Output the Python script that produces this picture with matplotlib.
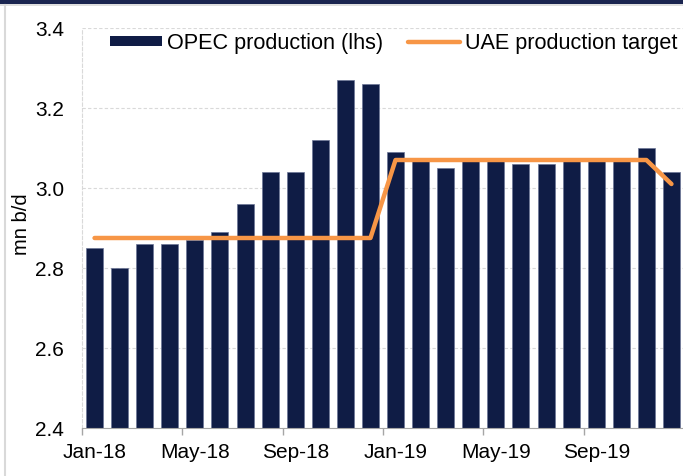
import matplotlib

matplotlib.use("Agg")
import matplotlib.pyplot as plt
from matplotlib.lines import Line2D
from matplotlib.patches import Rectangle

plt.rcParams["font.family"] = ["Liberation Sans", "DejaVu Sans"]

# Monthly series, Jan-18 .. Dec-19
months = [
    "Jan-18", "Feb-18", "Mar-18", "Apr-18", "May-18", "Jun-18",
    "Jul-18", "Aug-18", "Sep-18", "Oct-18", "Nov-18", "Dec-18",
    "Jan-19", "Feb-19", "Mar-19", "Apr-19", "May-19", "Jun-19",
    "Jul-19", "Aug-19", "Sep-19", "Oct-19", "Nov-19", "Dec-19",
]
opec_production = [
    2.85, 2.80, 2.86, 2.86, 2.87, 2.89, 2.96, 3.04, 3.04, 3.12, 3.27, 3.26,
    3.09, 3.07, 3.05, 3.07, 3.07, 3.06, 3.06, 3.07, 3.07, 3.07, 3.10, 3.04,
]
uae_target = [
    2.875, 2.875, 2.875, 2.875, 2.875, 2.875, 2.875, 2.875, 2.875, 2.875, 2.875, 2.875,
    3.07, 3.07, 3.07, 3.07, 3.07, 3.07, 3.07, 3.07, 3.07, 3.07, 3.07, 3.01,
]
y_ticks = [2.4, 2.6, 2.8, 3.0, 3.2, 3.4]

NAVY = "#0f1c45"
ORANGE = "#f79646"
GRID = "#d9d9d9"

W, H = 683, 476
fig = plt.figure(figsize=(W / 100, H / 100), dpi=100)
ax = fig.add_axes([82 / W, 1 - 428 / H, 604 / W, 400 / H])

x = list(range(len(months)))
ax.bar(x, opec_production, width=0.68, color=NAVY, edgecolor="#6b7596",
       linewidth=0.5, zorder=2)
ax.plot(x, uae_target, color=ORANGE, linewidth=3.2, solid_capstyle="round",
        solid_joinstyle="round", zorder=3)

ax.set_xlim(-0.5, 23.58)
ax.set_ylim(2.4, 3.4)
ax.set_yticks(y_ticks)
ax.set_yticklabels([f"{v:.1f}" for v in y_ticks])
ax.tick_params(axis="y", length=0, pad=13, labelsize=15)
ax.yaxis.grid(True, color=GRID, linestyle=(0, (3, 2)), linewidth=0.8, zorder=0)

# tick marks between groups of four months, labels under the first bar of each group
ax.set_xticks([i - 0.5 for i in range(0, 25, 4)])
ax.set_xticklabels([])
ax.set_xticks(x[::4], minor=True)
ax.set_xticklabels(months[::4], minor=True)
ax.tick_params(axis="x", which="major", length=5, color="#a6a6a6", width=1)
ax.tick_params(axis="x", which="minor", length=0, pad=11, labelsize=15)

for side in ("top", "right"):
    ax.spines[side].set_visible(False)
ax.spines["bottom"].set_color("#a6a6a6")
ax.spines["left"].set_color(GRID)
ax.spines["left"].set_linestyle((0, (3, 2)))
ax.spines["left"].set_linewidth(0.8)

ax.set_ylabel("mn b/d", fontsize=14.5)
ax.yaxis.set_label_coords(-(82 - 31) / 604, (428 - 224) / 400)

handles = [
    Rectangle((0, 0), 1, 1, facecolor=NAVY, edgecolor="none"),
    Line2D([], [], color=ORANGE, linewidth=3.2, solid_capstyle="round"),
]
fig.legend(handles, ["OPEC production (lhs)", "UAE production target"],
           loc="center left", bbox_to_anchor=(110 / W, 1 - 43 / H), ncol=2,
           frameon=False, fontsize=15.6, borderpad=0, borderaxespad=0,
           handlelength=2.4, handleheight=0.32, handletextpad=0.23,
           columnspacing=1.15)

# frame of the exhibit: dark band on top, light rule down the left side
fig.add_artist(Rectangle((0, 1 - 3.5 / H), 1, 3.5 / H, transform=fig.transFigure,
                         facecolor="#1a2550", edgecolor="none"))
fig.add_artist(Line2D([0, 1], [1 - 4.5 / H] * 2, transform=fig.transFigure,
                      color="#d9d9d9", linewidth=1.2))
fig.add_artist(Line2D([4.5 / W] * 2, [0, 1 - 4.5 / H], transform=fig.transFigure,
                      color="#d9d9d9", linewidth=1.5))

fig.savefig("out.png", dpi=100)
